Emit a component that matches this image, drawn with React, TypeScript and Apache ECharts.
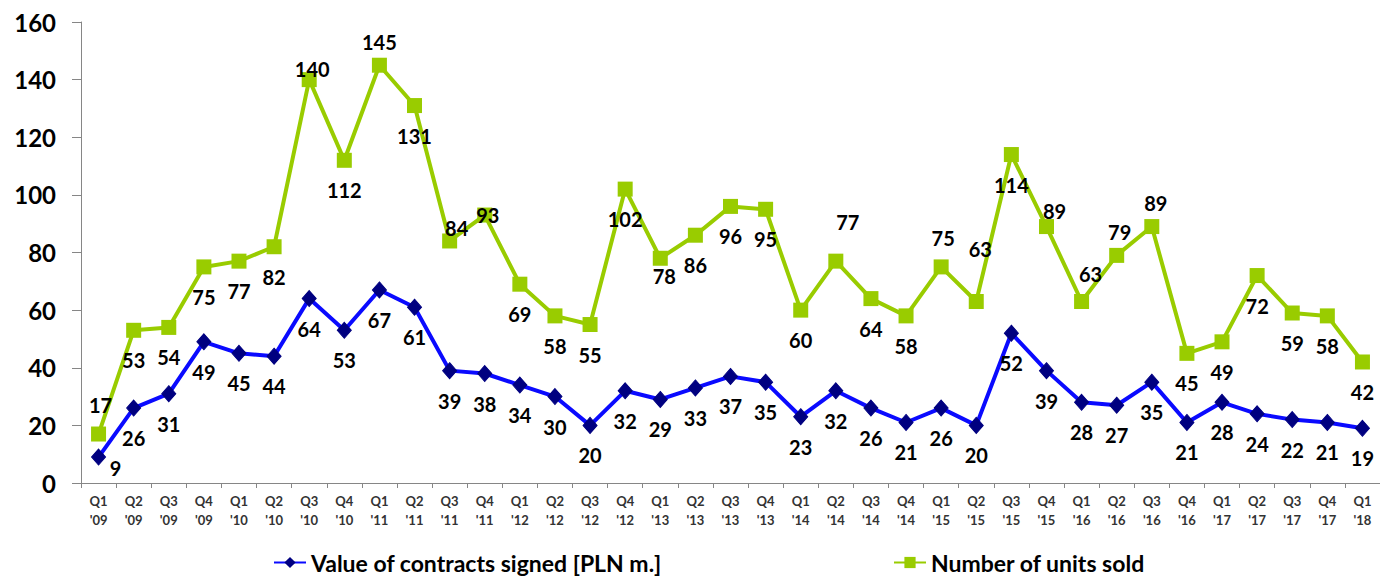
import React, { useEffect, useRef } from "react";
import * as echarts from "echarts";

const categories = [
  "Q1\n'09", "Q2\n'09", "Q3\n'09", "Q4\n'09",
  "Q1\n'10", "Q2\n'10", "Q3\n'10", "Q4\n'10",
  "Q1\n'11", "Q2\n'11", "Q3\n'11", "Q4\n'11",
  "Q1\n'12", "Q2\n'12", "Q3\n'12", "Q4\n'12",
  "Q1\n'13", "Q2\n'13", "Q3\n'13", "Q4\n'13",
  "Q1\n'14", "Q2\n'14", "Q3\n'14", "Q4\n'14",
  "Q1\n'15", "Q2\n'15", "Q3\n'15", "Q4\n'15",
  "Q1\n'16", "Q2\n'16", "Q3\n'16", "Q4\n'16",
  "Q1\n'17", "Q2\n'17", "Q3\n'17", "Q4\n'17",
  "Q1\n'18",
];

const contractsValue = [
  9, 26, 31, 49, 45, 44, 64, 53, 67, 61, 39, 38, 34, 30, 20, 32, 29, 33, 37,
  35, 23, 32, 26, 21, 26, 20, 52, 39, 28, 27, 35, 21, 28, 24, 22, 21, 19,
];

const unitsSold = [
  17, 53, 54, 75, 77, 82, 140, 112, 145, 131, 84, 93, 69, 58, 55, 102, 78, 86,
  96, 95, 60, 77, 64, 58, 75, 63, 114, 89, 63, 79, 89, 45, 49, 72, 59, 58, 42,
];

const yTicks = { min: 0, max: 160, interval: 20 };

const seriesNames = ["Value of contracts signed [PLN m.]", "Number of units sold"];

// label placement tweaks (styling only), keyed by index
const blueLabelOffsets: Record<number, [number, number]> = {
  0: [17, 11],
};
const greenLabelOffsets: Record<number, [number, number]> = {
  0: [2, -29],
  6: [3, -11],
  8: [0, -23],
  10: [7, -13],
  11: [3, 0],
  16: [4, 18],
  21: [12, -39],
  24: [2, -29],
  25: [4, -52],
  27: [8, -16],
  28: [9, -27],
  29: [3, -23],
  30: [4, -24],
};

const FONT = "Lato";
const BLUE = "#0a0aff";
const NAVY = "#000080";
const GREEN = "#99cc00";

export default function App() {
  const ref = useRef<HTMLDivElement>(null);

  useEffect(() => {
    if (!ref.current) return;
    const chart = echarts.init(ref.current, undefined, { renderer: "svg" });

    const labelBase = {
      show: true,
      position: "inside",
      color: "#000",
      fontFamily: FONT,
      fontWeight: "bold",
      fontSize: 20,
      offset: [0, 30],
    };

    const blueData = contractsValue.map((v, i) =>
      blueLabelOffsets[i] ? { value: v, label: { offset: blueLabelOffsets[i] } } : v
    );
    const greenData = unitsSold.map((v, i) =>
      greenLabelOffsets[i] ? { value: v, label: { offset: greenLabelOffsets[i] } } : v
    );

    const legendText = {
      fontFamily: FONT,
      fontWeight: "bold",
      fontSize: 23,
      color: "#000",
    };

    chart.setOption({
      animation: false,
      backgroundColor: "#fff",
      textStyle: { fontFamily: FONT },
      grid: { left: 81, right: -3, top: 22, bottom: 93, containLabel: false },
      legend: [
        {
          data: [seriesNames[0]],
          left: 268,
          top: 546,
          itemWidth: 32,
          itemHeight: 14,
          textStyle: legendText,
        },
        {
          data: [seriesNames[1]],
          left: 888,
          top: 546,
          itemWidth: 32,
          itemHeight: 14,
          textStyle: legendText,
        },
      ],
      xAxis: {
        type: "category",
        data: categories,
        boundaryGap: true,
        axisLine: { lineStyle: { color: "#868686", width: 1 } },
        axisTick: { show: true, length: 5, lineStyle: { color: "#868686" } },
        axisLabel: {
          interval: 0,
          margin: 9,
          color: "#333",
          fontFamily: FONT,
          fontWeight: "bold",
          fontSize: 13,
          lineHeight: 18.5,
        },
        splitLine: { show: false },
      },
      yAxis: {
        type: "value",
        min: yTicks.min,
        max: yTicks.max,
        interval: yTicks.interval,
        axisLine: { show: true, lineStyle: { color: "#868686", width: 1 } },
        axisTick: { show: true, length: 9, lineStyle: { color: "#868686" } },
        axisLabel: {
          margin: 25,
          color: "#000",
          fontFamily: FONT,
          fontWeight: "bold",
          fontSize: 24,
        },
        splitLine: { show: false },
      },
      series: [
        {
          name: seriesNames[0],
          type: "line",
          data: blueData,
          symbol: "diamond",
          symbolSize: [14, 16],
          lineStyle: { color: BLUE, width: 4 },
          itemStyle: { color: NAVY, borderColor: NAVY },
          label: labelBase,
          z: 3,
        },
        {
          name: seriesNames[1],
          type: "line",
          data: greenData,
          symbol: "rect",
          symbolSize: 15,
          lineStyle: { color: GREEN, width: 4 },
          itemStyle: { color: GREEN },
          label: labelBase,
          z: 2,
        },
      ],
    });

    return () => chart.dispose();
  }, []);

  return (
    <div
      ref={ref}
      style={{ position: "absolute", left: 0, top: 0, width: 1380, height: 576 }}
    />
  );
}
